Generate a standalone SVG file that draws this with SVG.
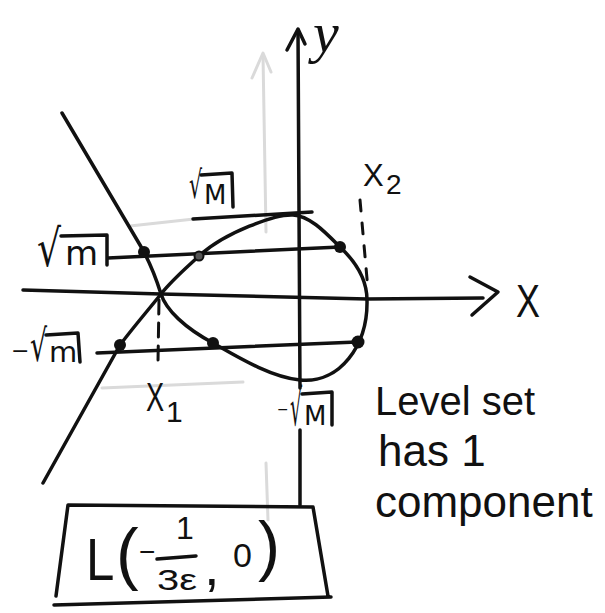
<svg xmlns="http://www.w3.org/2000/svg" width="605" height="613" viewBox="0 0 605 613">
<style>
.ink{fill:none;stroke:#111;stroke-width:3.5;stroke-linecap:round;stroke-linejoin:round}
.faint{fill:none;stroke:#dadada;stroke-width:3;stroke-linecap:round;stroke-linejoin:round}
.dash{fill:none;stroke:#111;stroke-width:3;stroke-linecap:round}
.dot{fill:#111}
.hand{font-family:"Liberation Sans","Open Sans",sans-serif;fill:#111}
.math{font-family:"DejaVu Sans","Liberation Sans",sans-serif;fill:#111}
</style>
<rect width="605" height="613" fill="#fff"/>

<g id="faint-guides">
  <path class="faint" d="M263,55 L266,232"/>
  <path class="faint" d="M252,78 L263,53 L271,72"/>
  <path class="faint" d="M266,463 L268,520"/>
  <path class="faint" stroke="#c4c4c4" stroke-width="4" d="M130,226 L194,219"/>
  <path class="faint" stroke="#c4c4c4" stroke-width="5" d="M102,388 L243,382"/>
</g>

<g id="axes">
  <path class="ink" d="M298,30 L300,388 M300,430 L300,505"/>
  <path class="ink" d="M287,50 L298,29 L305,44"/>
  <path class="ink" d="M23,290 L161,294 L367,299 L483,298"/>
  <path class="ink" d="M470,277 L498,292 L472,315"/>
  <text class="hand" font-size="46" transform="translate(516,317) scale(0.78,1)">X</text>
  <text x="313" y="52" font-size="58" font-style="italic" font-family="'Liberation Serif',serif" fill="#111">y</text>
</g>

<g id="curve">
  <path class="ink" stroke-width="4" d="M62,113 L140,245 C150,262 156,278 161,294 C166,310 185,328 213,343 C236,356 270,377 300,380 C340,384 368,345 367,300 C367,280 356,262 340,247 C325,232 310,216 293,215 C276,214 225,232 199,256 C185,269 172,280 161,294 C150,308 135,325 120,345 L43,483"/>
</g>

<g id="level-lines">
  <path class="ink" d="M108,258 L340,247"/>
  <path class="ink" d="M97,353 L357,342"/>
  <path class="ink" stroke-width="6" stroke="#222" d="M193,219 L312,212"/>
  <path class="dash" stroke-dasharray="14 9" d="M159,300 L158,362"/>
  <path class="dash" stroke-dasharray="11 12" d="M360,200 L368,290"/>
</g>

<g id="points">
  <circle class="dot" cx="144" cy="252" r="6"/>
  <circle cx="199" cy="256" r="4.5" fill="#555" stroke="#111" stroke-width="2"/>
  <circle class="dot" cx="340" cy="247" r="6"/>
  <circle class="dot" cx="120" cy="345" r="6"/>
  <circle class="dot" cx="213" cy="343" r="6"/>
  <circle class="dot" cx="358" cy="342" r="6.5"/>
</g>

<g id="label-sqrt-m">
  <text class="math" font-size="51" transform="translate(37,266) scale(0.74,1)">√</text>
  <text class="math" x="65" y="265" font-size="34">m</text>
  <path class="ink" d="M61,236 L107,235 L107,265"/>
</g>
<g id="label-neg-sqrt-m">
  <text class="math" x="11" y="358" font-size="22">−</text>
  <text class="math" font-size="44" transform="translate(30,361) scale(0.61,1)">√</text>
  <text class="math" x="49" y="362" font-size="29">m</text>
  <path class="ink" d="M46,335 L78,333 L80,362"/>
</g>
<g id="label-sqrt-M">
  <text class="math" font-size="38" transform="translate(189,198) scale(0.54,1)">√</text>
  <text class="math" x="204" y="204" font-size="26">M</text>
  <path class="ink" d="M201,175 L232,173 L233,207"/>
</g>
<g id="label-neg-sqrt-M">
  <text class="math" x="277" y="414" font-size="14">−</text>
  <text class="math" font-size="50" transform="translate(290,425) scale(0.38,1)">√</text>
  <text class="math" x="304" y="425" font-size="26">M</text>
  <path class="ink" d="M302,394 L332,392 L332,425"/>
</g>
<g id="label-x1">
  <text class="hand" font-size="40" transform="translate(146,411) scale(0.68,1)">X</text>
  <text class="hand" x="166" y="422" font-size="30">1</text>
</g>
<g id="label-x2">
  <text class="hand" x="363" y="186" font-size="31">X</text>
  <text class="hand" x="386" y="194" font-size="28">2</text>
</g>

<g id="box-L">
  <path class="ink" stroke-width="5" d="M56,596 L68,505 L313,507 L328,596 M54,605 L331,597"/>
  <text class="hand" font-size="60" transform="translate(86,580) scale(0.85,1)">L</text>
  <text class="hand" x="116" y="577" font-size="68">(</text>
  <text class="hand" x="139" y="561" font-size="28">−</text>
  <path class="ink" stroke-width="3" d="M157,559 L196,556"/>
  <text class="hand" x="176" y="539" font-size="32">1</text>
  <text class="hand" x="157" y="590" font-size="30" textLength="40" lengthAdjust="spacingAndGlyphs">3ε</text>
  <text class="hand" x="204" y="585" font-size="56">,</text>
  <text class="hand" x="233" y="567" font-size="34">0</text>
  <text class="hand" x="258" y="568" font-size="66">)</text>
</g>

<g id="note">
  <text class="hand" x="375" y="415" font-size="40">Level set</text>
  <text class="hand" x="378" y="466" font-size="44">has 1</text>
  <text class="hand" x="375" y="517" font-size="44">component</text>
</g>
</svg>
